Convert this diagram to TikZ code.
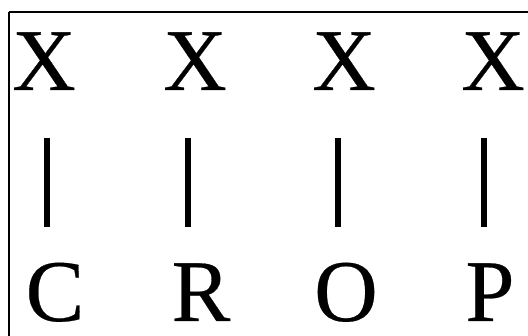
\documentclass[tikz,border=0pt]{standalone}
\usepackage{fontspec}
\setmainfont{Liberation Serif}
\newfontfamily\refserif[FakeBold=0.3]{Liberation Serif}
\begin{document}
\begin{tikzpicture}[x=1pt,y=-1pt,
  letter/.style={anchor=base,inner sep=0pt,font=\refserif\fontsize{88}{88}\selectfont},
  bar/.style={line width=6pt}]
\useasboundingbox (0,0) rectangle (528,336);
\draw[line width=2pt] (8.5,12) -- (530,12);
\draw[line width=2pt] (8.5,12) -- (8.5,340);
\node[letter] (x1) at (44,90) {X};
\node[letter] (x2) at (195,90) {X};
\node[letter] (x3) at (344,90) {X};
\node[letter] (x4) at (493,90) {X};
\node[letter] (c) at (55,321) {C};
\node[letter] (r) at (201,321) {R};
\node[letter] (o) at (346,321) {O};
\node[letter] (p) at (490,321) {P};
\coordinate (t1) at (47,138); \coordinate (b1) at (47,227);
\coordinate (t2) at (188,138); \coordinate (b2) at (188,227);
\coordinate (t3) at (338,138); \coordinate (b3) at (338,227);
\coordinate (t4) at (484,138); \coordinate (b4) at (484,227);
\draw[bar] (t1) -- (b1);
\draw[bar] (t2) -- (b2);
\draw[bar] (t3) -- (b3);
\draw[bar] (t4) -- (b4);
\end{tikzpicture}
\end{document}
